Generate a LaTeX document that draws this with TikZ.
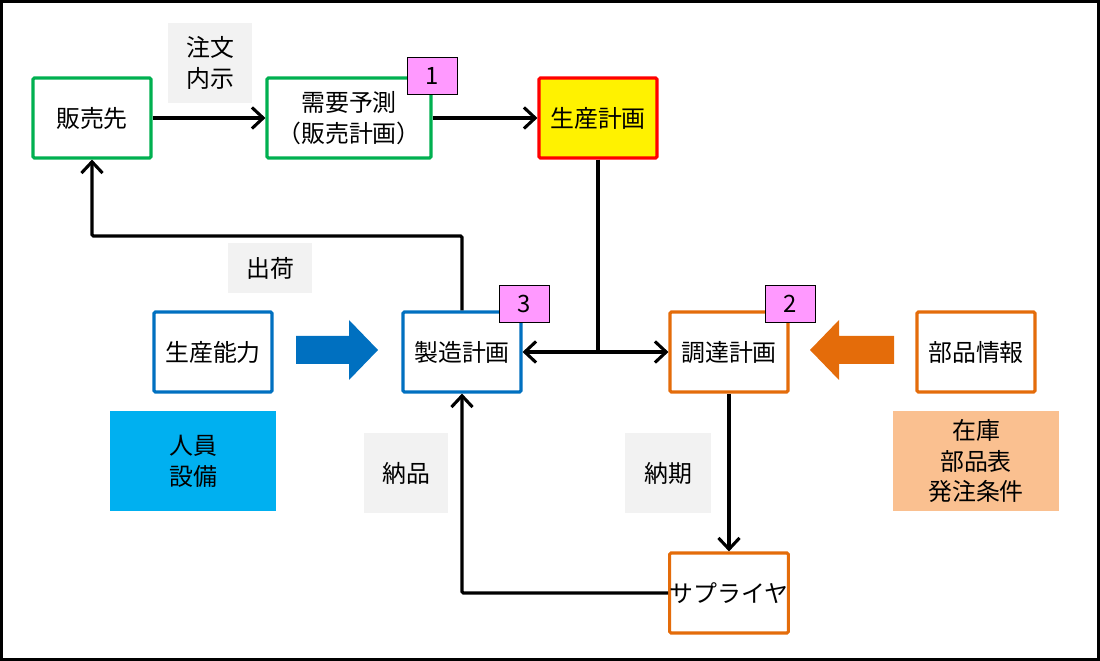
\documentclass[tikz,border=0pt]{standalone}
\usepackage{fontspec}
\setmainfont{Noto Sans CJK JP}
\usetikzlibrary{arrows.meta}
\definecolor{boxgreen}{HTML}{00B050}
\definecolor{boxblue}{HTML}{0070C0}
\definecolor{boxorange}{HTML}{E46C0A}
\definecolor{badgepink}{HTML}{FF99FF}
\definecolor{notegray}{HTML}{F2F2F2}
\definecolor{notecyan}{HTML}{00B0F0}
\definecolor{notepeach}{HTML}{FAC090}
\tikzset{box/.style={draw,line width=2.2pt,fill=white,rounded corners=1pt,inner sep=0,
                     minimum width=2.95cm,minimum height=2cm,align=center},
         greenbox/.style={box,draw=boxgreen},
         bluebox/.style={box,draw=boxblue},
         orangebox/.style={box,draw=boxorange},
         note/.style={fill=notegray,inner sep=0,minimum width=2.075cm,minimum height=2cm,align=center},
         badge/.style={draw,line width=0.6pt,fill=badgepink,inner sep=0,minimum width=1.25cm,minimum height=0.93cm},
         barb/.tip={Straight Barb[length=8pt,width=15pt]},
         flow/.style={line width=2.2pt,-barb}
}
\begin{document}
\begin{tikzpicture}[x=0.025cm,y=-0.025cm,font=\fontsize{17}{22}\selectfont]
  \useasboundingbox (0,0) rectangle (1100,661);
  \draw[line width=2.2pt] (1.5,1.5) rectangle (1098.5,659.5);
  % upper row
  \node[greenbox] (sales) at (92,118) {販売先};
  \node[greenbox,minimum width=4.1cm] (demand) at (349,118) {需要予測\\（販売計画）};
  \node[box,draw=red,fill=yellow] (plan) at (598,118) {生産計画};
  \node[note] (order) at (210,63) {注文\\内示};
  % middle row
  \node[bluebox] (capacity) at (213,352) {生産能力};
  \node[bluebox] (mfg) at (462,352) {製造計画};
  \node[orangebox] (proc) at (729,352) {調達計画};
  \node[orangebox] (parts) at (976,352) {部品情報};
  \node[note,minimum width=2.1cm,minimum height=1.25cm] (ship) at (270,268) {出荷};
  \node[note,fill=notecyan,minimum width=4.15cm,minimum height=2.5cm] (staff) at (193,461) {人員\\設備};
  \node[note,fill=notepeach,minimum width=4.125cm,minimum height=2.5cm] (stock) at (976,461) {在庫\\部品表\\発注条件};
  % lower row
  \node[orangebox] (supplier) at (729,593) {サプライヤ};
  \node[note] (deliver) at (406,473) {納品};
  \node[note,minimum width=2.125cm] (due) at (668,473) {納期};
  % badges
  \node[badge] (b1) at (432,76) {1};
  \node[badge] (b2) at (790,304) {2};
  \node[badge] (b3) at (524,304) {3};
  % block arrows
  \fill[boxblue] (296,336) -- (349,336) -- (349,320) -- (378,350) -- (349,380) -- (349,364) -- (296,364) -- cycle;
  \fill[boxorange] (894,336) -- (839,336) -- (839,320) -- (810,350) -- (839,380) -- (839,364) -- (894,364) -- cycle;
  % connectors
  \coordinate (shipY) at (0,236);
  \draw[flow] (sales) -- (demand);
  \draw[flow] (demand) -- (plan);
  \draw[line width=2.2pt] (plan.south) -- (plan.south |- mfg.east);
  \draw[flow,barb-barb] (mfg.east) -- (proc.west);
  \draw[flow,rounded corners=1pt] (mfg.north) -- (mfg.north |- shipY) -| (sales.south);
  \draw[flow] (proc.south) -- (supplier.north);
  \draw[flow,rounded corners=1pt] (supplier.west) -| (mfg.south);
\end{tikzpicture}
\end{document}
